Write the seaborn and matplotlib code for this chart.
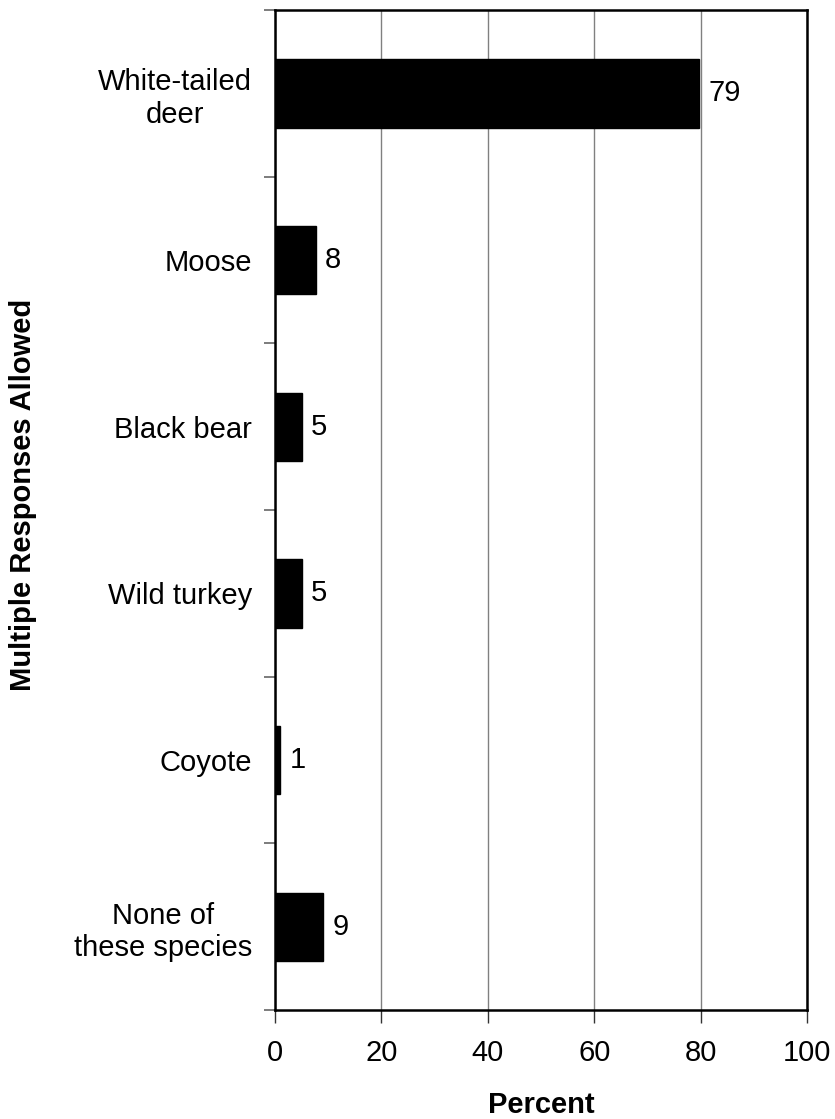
import numpy as np
import pandas as pd
import matplotlib
matplotlib.use('Agg')
import matplotlib.pyplot as plt
import seaborn as sns

# Datos
especies = ["White-tailed\ndeer", "Moose", "Black bear", "Wild turkey", "Coyote",
            "None of\nthese species"]
porcentaje = [79.7, 7.7, 5.1, 5.0, 1.0, 9.1]
etiquetas = ["79", "8", "5", "5", "1", "9"]

df = pd.DataFrame({"Especie": especies, "Percent": porcentaje})

sns.set_style("white")
plt.rcParams['font.family'] = ['Liberation Sans', 'DejaVu Sans']
plt.rcParams['text.color'] = 'black'
plt.rcParams['xtick.labelcolor'] = 'black'
plt.rcParams['ytick.labelcolor'] = 'black'
plt.rcParams['axes.labelcolor'] = 'black'

fs = 21

fig = plt.figure(figsize=(8.35, 11.19), dpi=100)
ax = fig.add_axes([275 / 835, 1 - 1010 / 1119, 532 / 835, 1000 / 1119])

sns.barplot(data=df, x="Percent", y="Especie", orient="h", color="black",
            edgecolor="black", width=0.41, saturation=1, ax=ax, zorder=3)

ax.set_xlim(0, 100)
ax.set_ylim(5.5, -0.5)
ax.set_xticks([0, 20, 40, 60, 80, 100])
ax.tick_params(axis='x', labelsize=fs, length=9, width=1, color='#333333',
               direction='out', bottom=True, pad=12)
ax.tick_params(axis='y', which='major', length=0, labelsize=fs, pad=16.5)
ax.set_yticks(np.arange(-0.5, 6, 1), minor=True)
ax.tick_params(axis='y', which='minor', length=8, width=1.2, color='#666666',
               direction='out', left=True)

ax.xaxis.grid(True, color='#808080', linewidth=1, zorder=0)
ax.yaxis.grid(False)
for s in ax.spines.values():
    s.set_color('black')
    s.set_linewidth(1.8)

for i, (v, t) in enumerate(zip(porcentaje, etiquetas)):
    ax.annotate(t, (v, i), xytext=(6.5, 0), textcoords='offset points',
                va='center', ha='left', fontsize=fs)

ax.set_xlabel("Percent", fontsize=fs, fontweight='bold', labelpad=17.5)
ax.set_ylabel("Multiple Responses Allowed", fontsize=fs, fontweight='bold')
ax.yaxis.set_label_coords(-0.447, 0.515)
for lbl in ax.get_yticklabels():
    lbl.set_multialignment('center')

fig.savefig("out.png", dpi=100)
